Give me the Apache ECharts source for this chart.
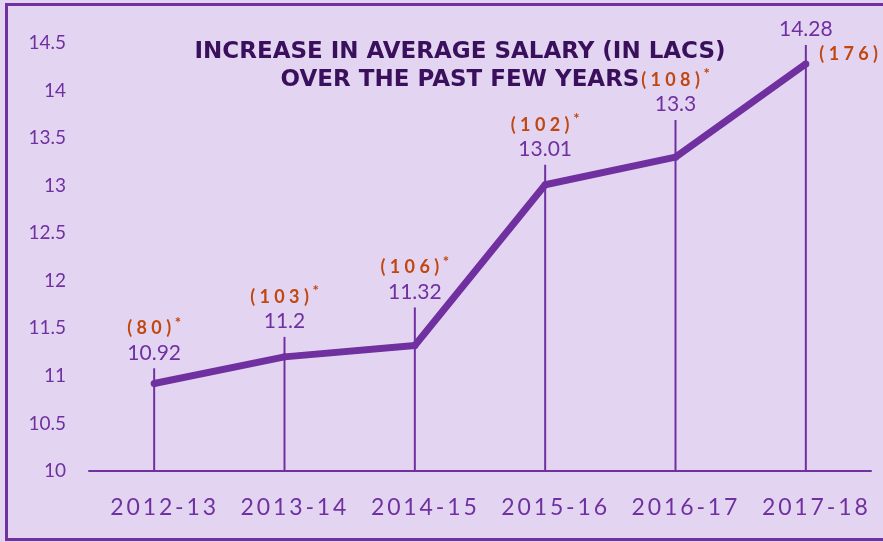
<!DOCTYPE html>
<html>
<head>
<meta charset="utf-8">
<script src="https://cdn.jsdelivr.net/npm/echarts@6/dist/echarts.min.js"></script>
<style>
    html, body { margin: 0; padding: 0; background: #e3d5f2; }
    #chart { width: 883px; height: 542px; }
</style>
</head>
<body>
<div id="chart"></div>
<script>
// 数据
var years = ['2012-13', '2013-14', '2014-15', '2015-16', '2016-17', '2017-18'];
var salary = [10.92, 11.2, 11.32, 13.01, 13.3, 14.28];
var counts = [80, 103, 106, 102, 108, 176];
// top of each vertical stem (axis units)
var stemTops = [11.08, 11.41, 11.72, 13.22, 13.69, 14.48];
var yMin = 10, yMax = 14.5, yStep = 0.5;

var purple = '#7030a0';
var orange = '#c0470f';
var font = 'Lato';

// spread out letters a bit
function spaced(s, gap) {
    return String(s).split('').join(gap || ' ');
}

var last = years.length - 1;

var myChart = echarts.init(document.getElementById('chart'));

var option = {
    backgroundColor: '#e3d5f2',
    animation: false,
    title: {
        text: 'INCREASE IN AVERAGE SALARY (IN LACS)\nOVER THE PAST FEW YEARS',
        left: 455,
        top: 33,
        textAlign: 'center',
        textStyle: {
            fontFamily: 'DejaVu Sans',
            fontWeight: 'bold',
            fontSize: 23,
            lineHeight: 28,
            color: '#3a0f5c'
        }
    },
    graphic: [{
        type: 'rect',
        shape: { x: 6.5, y: 4.5, width: 900, height: 535 },
        style: { fill: 'none', stroke: purple, lineWidth: 3 },
        silent: true
    }],
    grid: {
        left: 89,
        right: 12,
        top: 43,
        bottom: 71
    },
    xAxis: {
        type: 'category',
        data: years,
        boundaryGap: true,
        axisLine: { lineStyle: { color: purple, width: 2 } },
        axisTick: { show: false },
        axisLabel: {
            interval: 0,
            color: purple,
            fontFamily: font,
            fontSize: 23,
            margin: 25,
            padding: [0, 0, 0, 18],
            formatter: function (v) { return spaced(v, '\u2009'); }
        }
    },
    yAxis: {
        type: 'value',
        min: yMin,
        max: yMax,
        interval: yStep,
        axisLine: { show: false },
        axisTick: { show: false },
        splitLine: { show: false },
        axisLabel: {
            color: purple,
            fontFamily: font,
            fontSize: 19,
            margin: 23
        }
    },
    series: [
        {
            name: 'stem',
            type: 'bar',
            barWidth: 2,
            z: 1,
            itemStyle: { color: purple },
            data: stemTops,
            label: {
                show: true,
                position: 'top',
                distance: 4,
                formatter: function (p) {
                    var v = '{v|' + salary[p.dataIndex] + '}';
                    if (p.dataIndex === last) return v;
                    return '{c|' + spaced('(' + counts[p.dataIndex] + ')') + '}{s| *}\n' + v;
                },
                rich: {
                    v: {
                        color: purple,
                        fontFamily: font,
                        fontSize: 21,
                        lineHeight: 23,
                        align: 'center'
                    },
                    c: {
                        color: orange,
                        fontFamily: font,
                        fontSize: 18,
                        fontWeight: 'bold',
                        lineHeight: 26
                    },
                    s: {
                        color: orange,
                        fontFamily: font,
                        fontSize: 15,
                        fontWeight: 'bold',
                        lineHeight: 26,
                        verticalAlign: 'top',
                        padding: [0, 0, 6, 0]
                    }
                }
            }
        },
        {
            name: 'salary',
            type: 'line',
            z: 3,
            showSymbol: true,
            symbol: 'circle',
            symbolSize: 7,
            itemStyle: { color: purple },
            lineStyle: { color: purple, width: 7, join: 'round' },
            data: salary.map(function (v, i) {
                if (i !== last) return v;
                return {
                    value: v,
                    label: {
                        show: true,
                        position: 'right',
                        distance: 10,
                        offset: [0, -10],
                        formatter: spaced('(' + counts[i] + ')'),
                        color: orange,
                        fontFamily: font,
                        fontSize: 18,
                        fontWeight: 'bold'
                    }
                };
            })
        }
    ]
};

myChart.setOption(option);
</script>
</body>
</html>
